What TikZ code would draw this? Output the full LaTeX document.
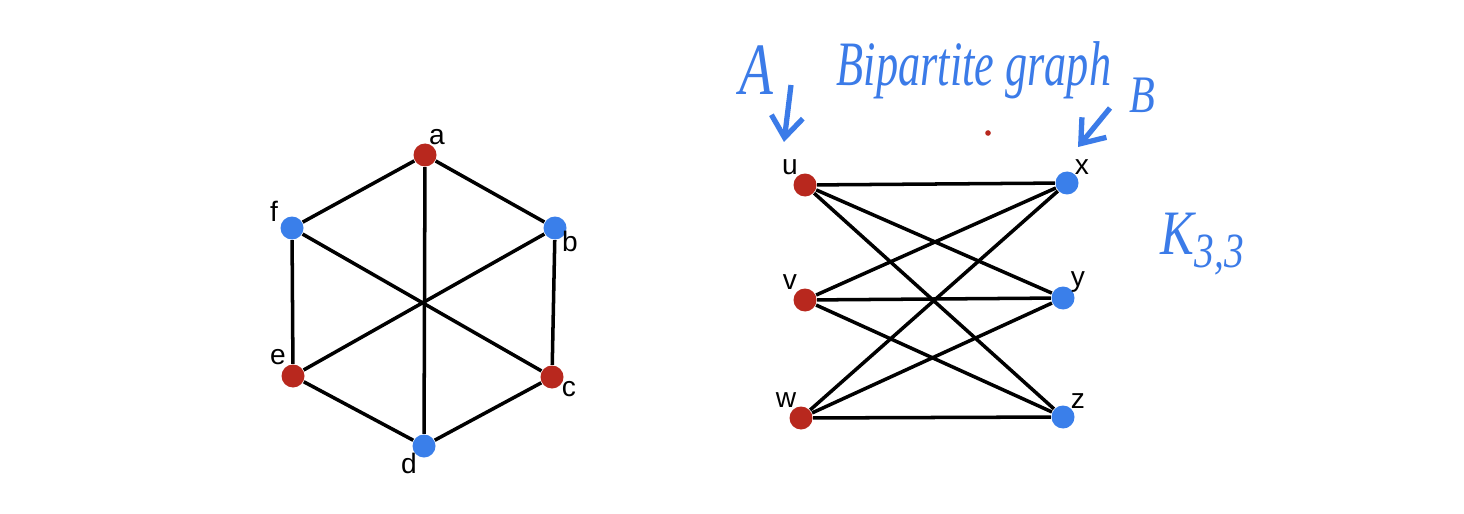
\documentclass[tikz,border=0pt]{standalone}
\usepackage{fontspec}
\setmainfont{Liberation Sans}
\newfontfamily\handfont{Liberation Serif}
\usetikzlibrary{
	calc,
	arrows.meta,
	positioning
	}
\definecolor{rouge}{HTML}{B8281E}
\definecolor{bleu}{HTML}{3A7FEA}
\definecolor{encre}{HTML}{3B7BE8}
\tikzset{font={\fontsize{8pt}{10}\selectfont}}
\tikzstyle{sommet}=[circle,inner sep=0pt,minimum width=0.21cm,minimum height=0.23cm]
\tikzstyle{sommet-r}=[sommet,fill=rouge]
\tikzstyle{sommet-b}=[sommet,fill=bleu]
\tikzstyle{arete}=[line width=1pt,black]
\tikzstyle{manuscrit}=[text=encre,inner sep=0pt,font={\handfont\itshape\fontsize{18pt}{20}\selectfont}]
\tikzstyle{fleche}=[encre,line width=1.5pt,-{Straight Barb[length=6pt,width=9pt]}]

\begin{document}
\begin{tikzpicture}
        \useasboundingbox[fill=white] (0,0) rectangle (14.64,-5.14);
        % hexagone
        \node[sommet-r] (a) at (4.25,-1.55) {};
        \node[sommet-b] (b) at (5.55,-2.28) {};
        \node[sommet-r] (c) at (5.52,-3.77) {};
        \node[sommet-b] (d) at (4.24,-4.46) {};
        \node[sommet-r] (e) at (2.93,-3.76) {};
        \node[sommet-b] (f) at (2.92,-2.28) {};
        %
        \draw[arete] (a) -- (b) -- (c) -- (d) -- (e) -- (f) -- (a);
        \draw[arete] (a) -- (d);
        \draw[arete] (b) -- (e);
        \draw[arete] (c) -- (f);
        %
        \node (la) at ($(a)+(0.12,0.18)$) {a};
        \node (lb) at ($(b)+(0.15,-0.13)$) {b};
        \node (lc) at ($(c)+(0.17,-0.12)$) {c};
        \node (ld) at ($(d)+(-0.15,-0.17)$) {d};
        \node (le) at ($(e)+(-0.15,0.19)$) {e};
        \node (lf) at ($(f)+(-0.18,0.17)$) {f};

        % K_{3,3}
        \node[sommet-r] (u) at (8.05,-1.85) {};
        \node[sommet-r] (v) at (8.05,-3.00) {};
        \node[sommet-r] (w) at (8.01,-4.18) {};
        \node[sommet-b] (x) at (10.67,-1.83) {};
        \node[sommet-b] (y) at (10.63,-2.98) {};
        \node[sommet-b] (z) at (10.63,-4.17) {};
        %
        \foreach \g in {u,v,w}
            \foreach \d in {x,y,z}
                \draw[arete] (\g) -- (\d);
        %
        \foreach \g in {u,v,w}
            \node (l\g) at ($(\g)+(-0.15,0.18)$) {\g};
        \foreach \d in {x,y,z}
            \node (l\d) at ($(\d)+(0.15,0.16)$) {\d};

        % annotations
        \node[manuscrit,anchor=base,font={\handfont\itshape\fontsize{21pt}{22}\selectfont}] (tA) at (7.56,-0.95) {\scalebox{0.75}[1]{A}};
        \node[manuscrit,anchor=base,font={\handfont\itshape\fontsize{15pt}{16}\selectfont}] (tB) at (11.42,-1.13) {\scalebox{0.8}[1]{B}};
        \node[manuscrit,anchor=base] (titre) at (9.74,-0.86) {\scalebox{0.7}[1]{Bipartite graph}};
        \node[manuscrit,anchor=base west] (k33) at (11.60,-2.55) {\scalebox{0.8}[1]{K\raisebox{-0.2em}{\fontsize{14pt}{15}\selectfont 3,3}}};
        \coordinate (fA1) at (7.91,-0.85);
        \coordinate (fA2) at (7.84,-1.42);
        \coordinate (fB1) at (11.10,-1.08);
        \coordinate (fB2) at (10.78,-1.47);
        \draw[fleche] (fA1) -- (fA2);
        \draw[fleche] (fB1) -- (fB2);
        \fill[rouge] (9.88,-1.33) circle (0.8pt);
\end{tikzpicture}
\end{document}
